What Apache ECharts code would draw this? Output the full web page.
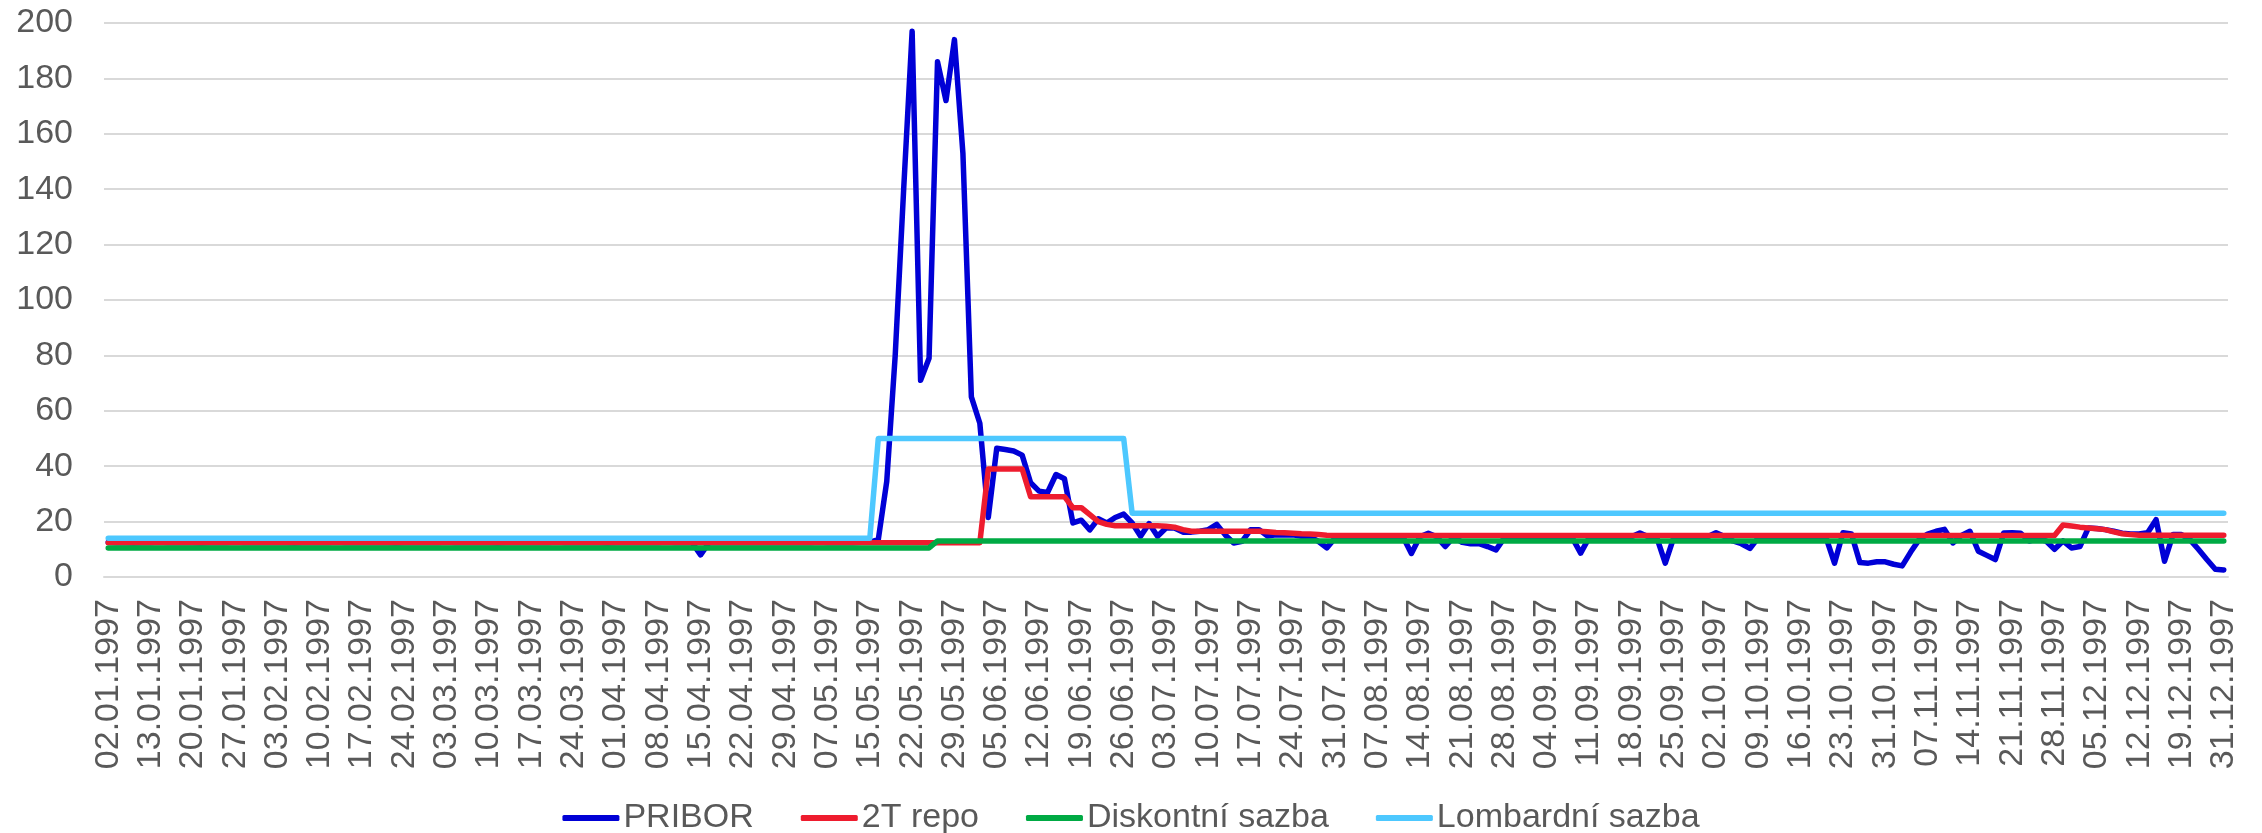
<!DOCTYPE html>
<html>
<head>
<meta charset="utf-8">
<script src="https://cdn.jsdelivr.net/npm/echarts@6/dist/echarts.min.js"></script>
<style>
html,body{margin:0;padding:0;background:#fff;}
#chart{width:2262px;height:833px;}
</style>
</head>
<body>
<div id="chart"></div>
<script>
// Trading days of 1997 (weekdays minus Czech holidays and two missing early-January days)
const holidays = ['01.01','31.03','01.05','08.05','28.10','24.12','25.12','26.12'];
const missingDays = ['06.01','07.01'];
function buildDates() {
  const out = [];
  const pad = n => (n < 10 ? '0' : '') + n;
  for (let d = new Date(Date.UTC(1997,0,1)); d.getUTCFullYear() === 1997; d.setUTCDate(d.getUTCDate()+1)) {
    const wd = d.getUTCDay();
    if (wd === 0 || wd === 6) continue;
    const dm = pad(d.getUTCDate()) + '.' + pad(d.getUTCMonth()+1);
    if (holidays.includes(dm) || missingDays.includes(dm)) continue;
    out.push(dm + '.1997');
  }
  return out;
}
const categories = buildDates();

const pribor = [
12.5,12.4,12.4,12.3,12.4,12.4,12.5,12.4,12.4,12.4,
12.4,12.3,12.4,12.4,12.4,12.5,12.4,12.4,12.4,12.4,
12.4,12.4,12.3,12.4,12.4,12.4,12.4,12.5,12.4,12.4,
12.4,12.4,12.4,12.4,12.3,12.4,12.4,12.4,12.4,12.4,
12.5,12.4,12.4,12.4,12.4,12.4,12.3,12.4,12.4,12.4,
12.4,12.4,12.4,12.5,12.4,12.4,12.4,12.4,12.4,12.3,
12.4,12.4,12.4,12.4,12.4,12.4,12.5,12.4,12.4,12.4,
8.0,12.4,12.4,12.4,12.4,12.4,12.4,12.4,12.4,12.4,
12.4,12.4,12.4,12.4,12.5,12.4,12.4,12.4,12.4,12.5,
12.6,13.5,34.5,80,140,197,71,79,186,172,
194,153,65,55.5,21.5,46.5,46,45.5,44,34,
31,30.5,37,35.5,19.5,20.5,17,21,19.5,21.5,
22.7,19.5,14.7,19.3,14.7,17.7,17.7,16.2,16.2,16.5,
17.1,19,15.2,12.3,12.9,17.1,17.1,14.8,15.2,15.2,
15.2,14.7,14.5,12.9,10.5,14.2,14.5,14.5,14.6,14.5,
14.5,14.6,14.5,14.5,8.5,14.5,15.8,14.5,11,14.5,
12.5,12,12,11,9.8,14.2,14.5,14.5,14.6,14.5,
14.5,14.5,14.6,14.2,8.6,14.2,14.5,14.5,14.6,14.5,
14.5,15.9,14.5,14.2,5,14.2,14.5,14.6,14.5,14.5,
16,14.6,13,12,10.3,14.2,14.5,14.5,14.6,14.5,
14.5,14.6,14.5,14.2,5,16,15.5,5.2,5,5.5,
5.5,4.6,4,9,13.5,15.5,16.5,17.2,12.3,15,
16.5,9.3,7.8,6.3,15.9,16,15.8,13,13.8,13,
10,13,10.5,11,17.7,17.5,17.1,16.5,15.8,15.5,
15.5,16,20.7,5.7,15.3,15.3,13.5,10,6.3,2.8,2.5
];

const repo2T = [
12.4,12.4,12.4,12.4,12.4,12.4,12.4,12.4,12.4,12.4,
12.4,12.4,12.4,12.4,12.4,12.4,12.4,12.4,12.4,12.4,
12.4,12.4,12.4,12.4,12.4,12.4,12.4,12.4,12.4,12.4,
12.4,12.4,12.4,12.4,12.4,12.4,12.4,12.4,12.4,12.4,
12.4,12.4,12.4,12.4,12.4,12.4,12.4,12.4,12.4,12.4,
12.4,12.4,12.4,12.4,12.4,12.4,12.4,12.4,12.4,12.4,
12.4,12.4,12.4,12.4,12.4,12.4,12.4,12.4,12.4,12.4,
12.4,12.4,12.4,12.4,12.4,12.4,12.4,12.4,12.4,12.4,
12.4,12.4,12.4,12.4,12.4,12.4,12.4,12.4,12.4,12.4,
12.4,12.4,12.4,12.4,12.4,12.4,12.4,12.4,12.4,12.4,
12.4,12.4,12.4,12.4,39,39,39,39,39,29,
29,29,29,29,25,25,22.5,20,19,18.5,
18.5,18.5,18.5,18.5,18.5,18.3,18,17.1,16.5,16.5,
16.5,16.5,16.5,16.5,16.5,16.5,16.5,16.3,16.1,16,
15.8,15.6,15.5,15.3,15.1,15,15,15,15,15,
15,15,15,15,15,15,15,15,15,15,
15,15,15,15,15,15,15,15,15,15,
15,15,15,15,15,15,15,15,15,15,
15,15,15,15,15,15,15,15,15,15,
15,15,15,15,15,15,15,15,15,15,
15,15,15,15,15,15,15,15,15,15,
15,15,15,15,15,15,15,15,15,15,
15,15,15,15,15,15,15,15,15,15,
15,18.8,18.4,18,17.7,17.4,17.1,16.3,15.6,15.3,
15.1,15.1,15.1,15.1,15.1,15.1,15.1,15.1,15.1,15.1,15.1
];

const diskont = [
10.5,10.5,10.5,10.5,10.5,10.5,10.5,10.5,10.5,10.5,
10.5,10.5,10.5,10.5,10.5,10.5,10.5,10.5,10.5,10.5,
10.5,10.5,10.5,10.5,10.5,10.5,10.5,10.5,10.5,10.5,
10.5,10.5,10.5,10.5,10.5,10.5,10.5,10.5,10.5,10.5,
10.5,10.5,10.5,10.5,10.5,10.5,10.5,10.5,10.5,10.5,
10.5,10.5,10.5,10.5,10.5,10.5,10.5,10.5,10.5,10.5,
10.5,10.5,10.5,10.5,10.5,10.5,10.5,10.5,10.5,10.5,
10.5,10.5,10.5,10.5,10.5,10.5,10.5,10.5,10.5,10.5,
10.5,10.5,10.5,10.5,10.5,10.5,10.5,10.5,10.5,10.5,
10.5,10.5,10.5,10.5,10.5,10.5,10.5,10.5,13,13,
13,13,13,13,13,13,13,13,13,13,
13,13,13,13,13,13,13,13,13,13,
13,13,13,13,13,13,13,13,13,13,
13,13,13,13,13,13,13,13,13,13,
13,13,13,13,13,13,13,13,13,13,
13,13,13,13,13,13,13,13,13,13,
13,13,13,13,13,13,13,13,13,13,
13,13,13,13,13,13,13,13,13,13,
13,13,13,13,13,13,13,13,13,13,
13,13,13,13,13,13,13,13,13,13,
13,13,13,13,13,13,13,13,13,13,
13,13,13,13,13,13,13,13,13,13,
13,13,13,13,13,13,13,13,13,13,
13,13,13,13,13,13,13,13,13,13,
13,13,13,13,13,13,13,13,13,13,13
];

const lombard = [
14,14,14,14,14,14,14,14,14,14,
14,14,14,14,14,14,14,14,14,14,
14,14,14,14,14,14,14,14,14,14,
14,14,14,14,14,14,14,14,14,14,
14,14,14,14,14,14,14,14,14,14,
14,14,14,14,14,14,14,14,14,14,
14,14,14,14,14,14,14,14,14,14,
14,14,14,14,14,14,14,14,14,14,
14,14,14,14,14,14,14,14,14,14,
14,50,50,50,50,50,50,50,50,50,
50,50,50,50,50,50,50,50,50,50,
50,50,50,50,50,50,50,50,50,50,
50,23,23,23,23,23,23,23,23,23,
23,23,23,23,23,23,23,23,23,23,
23,23,23,23,23,23,23,23,23,23,
23,23,23,23,23,23,23,23,23,23,
23,23,23,23,23,23,23,23,23,23,
23,23,23,23,23,23,23,23,23,23,
23,23,23,23,23,23,23,23,23,23,
23,23,23,23,23,23,23,23,23,23,
23,23,23,23,23,23,23,23,23,23,
23,23,23,23,23,23,23,23,23,23,
23,23,23,23,23,23,23,23,23,23,
23,23,23,23,23,23,23,23,23,23,
23,23,23,23,23,23,23,23,23,23,23
];

const seriesNames = ['PRIBOR', '2T repo', 'Diskontní sazba', 'Lombardní sazba'];
const seriesColors = ['#0000D6', '#EE1C2E', '#00AA44', '#4DC8FF'];
const seriesData = [pribor, repo2T, diskont, lombard];

const font = '"Liberation Sans", Arial, sans-serif';
const chart = echarts.init(document.getElementById('chart'), null, {renderer: 'canvas'});
chart.setOption({
  animation: false,
  backgroundColor: '#ffffff',
  grid: {left: 104, right: 34, top: 23, bottom: 256, containLabel: false},
  legend: {
    data: seriesNames,
    left: 'center',
    top: 796,
    itemWidth: 57,
    itemHeight: 6,
    itemGap: 47,
    icon: 'roundRect',
    textStyle: {fontSize: 34, color: '#595959', fontFamily: font, padding: [0, 0, 0, -1]}
  },
  xAxis: {
    type: 'category',
    data: categories,
    boundaryGap: true,
    axisLine: {show: true, lineStyle: {color: '#D9D9D9', width: 2}},
    axisTick: {show: false},
    axisLabel: {
      interval: 4,
      rotate: 90,
      fontSize: 34,
      color: '#595959',
      fontFamily: font,
      margin: 22
    },
    splitLine: {show: false}
  },
  yAxis: {
    type: 'value',
    min: 0,
    max: 200,
    interval: 20,
    axisLine: {show: false},
    axisTick: {show: false},
    axisLabel: {fontSize: 34, color: '#595959', fontFamily: font, margin: 31},
    splitLine: {lineStyle: {color: '#D9D9D9', width: 2}}
  },
  series: seriesNames.map((name, k) => ({
    name: name,
    type: 'line',
    data: seriesData[k],
    symbol: 'none',
    showSymbol: false,
    color: seriesColors[k],
    lineStyle: {width: 5.5, color: seriesColors[k], cap: 'round', join: 'round'},
    emphasis: {disabled: true}
  }))
});
</script>
</body>
</html>
